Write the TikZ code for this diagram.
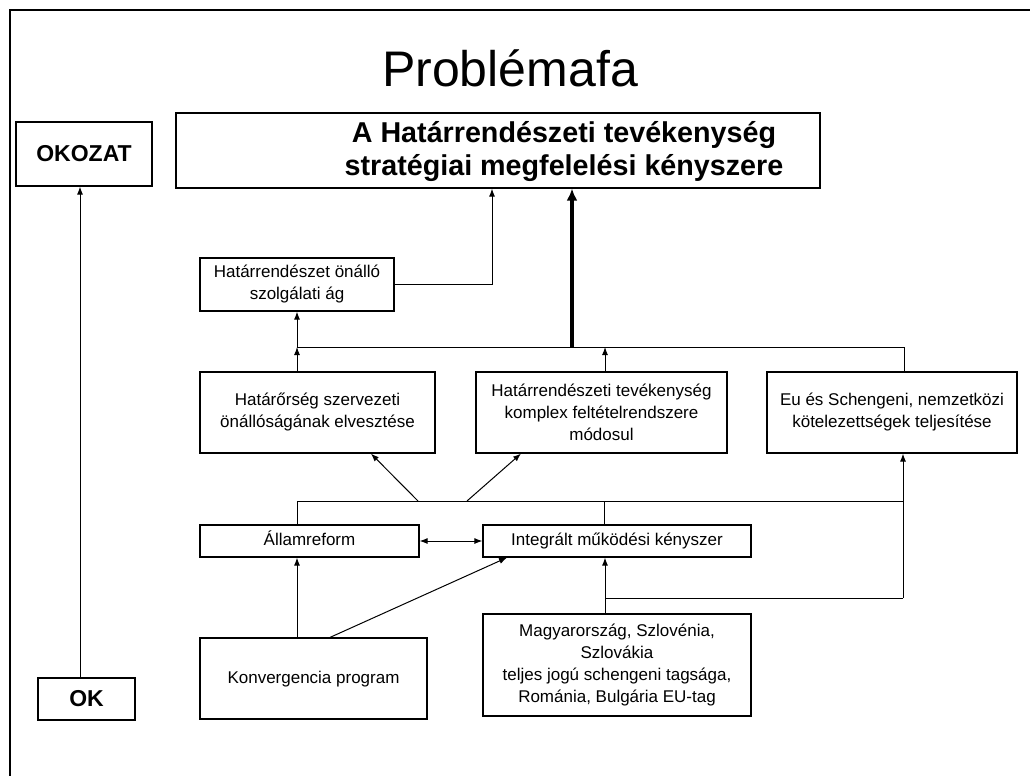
\documentclass[tikz,border=0pt]{standalone}
\usepackage{fontspec}
\setmainfont{Liberation Sans}
\usetikzlibrary{arrows.meta}
\begin{document}
\begin{tikzpicture}[x=1pt,y=-1pt,
  box/.style={draw, line width=1.2pt, rectangle, inner sep=0pt, align=center,
              font=\fontsize{17}{22}\selectfont},
  onebox/.style={box, text height=12.5pt, text depth=3.5pt},
  bigbox/.style={box, font=\bfseries\fontsize{28.7}{32}\selectfont},
  keybox/.style={box, font=\bfseries\fontsize{23}{26}\selectfont},
  conn/.style={line width=1pt},
  arr/.style={conn, -{Latex[length=8pt,width=6pt]}},
  dblarr/.style={conn, {Latex[length=8pt,width=6pt]}-{Latex[length=8pt,width=6pt]}},
  thickarr/.style={line width=4pt, -{Latex[length=12pt,width=11pt]}},
]
\useasboundingbox (0,0) rectangle (1030,776);

% page frame (top and left edges)
\draw[line width=2.5pt] (1030,10) -- (10,10) -- (10,776);

% title
\node[font=\fontsize{50}{60}\selectfont, inner sep=0pt] (title) at (510,68) {Problémafa};

% cause / effect column
\node[keybox, minimum width=136pt, minimum height=64pt] (okozat) at (84,154) {OKOZAT};
\node[keybox, minimum width=97pt, minimum height=42pt] (ok) at (86.5,699) {OK};
\coordinate (ax) at (80,0);
\draw[arr] (ok.north -| ax) -- (okozat.south -| ax);

% main problem
\node[bigbox, minimum width=644pt, minimum height=75pt] (top) at (498,150.5) {};
\node[font=\bfseries\fontsize{28.7}{33}\selectfont, align=center, inner sep=0pt] (toptext) at (564,152)
  {A Határrendészeti tevékenység\\stratégiai megfelelési kényszere};

% second level
\node[box, minimum width=194pt, minimum height=53pt] (onallo) at (297,284.5)
  {Határrendészet önálló\\szolgálati ág};

% third level
\node[box, minimum width=235pt, minimum height=81pt] (hatarorseg) at (317.5,412.5)
  {Határőrség szervezeti\\önállóságának elvesztése};
\node[box, minimum width=251pt, minimum height=81pt] (mid) at (601.5,412.5)
  {Határrendészeti tevékenység\\komplex feltételrendszere\\módosul};
\node[box, minimum width=250pt, minimum height=81pt] (eu) at (892,412.5)
  {Eu és Schengeni, nemzetközi\\kötelezettségek teljesítése};

% fourth level
\node[onebox, minimum width=219pt, minimum height=32pt] (allam) at (309.5,541) {Államreform};
\node[onebox, minimum width=268pt, minimum height=32pt] (integr) at (617,541) {Integrált működési kényszer};

% root causes
\node[onebox, minimum width=227pt, minimum height=81pt] (konv) at (313.5,678.5) {Konvergencia program};
\node[box, minimum width=268pt, minimum height=102pt] (magy) at (617,665)
  {Magyarország, Szlovénia,\\Szlovákia\\teljes jogú schengeni tagsága,\\Románia, Bulgária EU-tag};

% önálló ág -> main problem
\coordinate (jA) at (492,0);
\draw[arr] (onallo.east) -| (top.south -| jA);

% upper collector line
\coordinate (bL) at (297,347);
\coordinate (bM) at (605,347);
\coordinate (bT) at (572,347);
\coordinate (bR) at (904,347);
\draw[conn] (bL) -- (bR) -- (eu.north -| bR);
\draw[thickarr] (bT) -- (top.south -| bT);
\draw[arr] (bL) -- (onallo.south -| bL);
\draw[arr] (hatarorseg.north -| bL) -- (bL);
\draw[arr] (mid.north -| bM) -- (bM);

% lower collector line
\coordinate (cL) at (297,501);
\coordinate (cM) at (604,501);
\coordinate (cR) at (903,501);
\draw[conn] (allam.north -| cL) -- (cL) -- (cR);
\draw[conn] (integr.north -| cM) -- (cM);
\coordinate (d1) at (418,501);
\coordinate (d1e) at (371,0);
\draw[arr] (d1) -- (hatarorseg.south -| d1e);
\coordinate (d2) at (467,501);
\coordinate (d2e) at (521,0);
\draw[arr] (d2) -- (mid.south -| d2e);

% Schengen membership branch
\coordinate (eM) at (605,598);
\coordinate (eR) at (903,598);
\draw[conn] (eM) -- (eR);
\draw[arr] (eR) -- (eu.south -| eR);
\draw[arr] (magy.north -| eM) -- (integr.south -| eM);

% reform <-> integration
\draw[dblarr] (allam.east) -- (integr.west);

% convergence programme
\draw[arr] (konv.north -| cL) -- (allam.south -| cL);
\coordinate (kS) at (330,0);
\coordinate (kE) at (507,0);
\draw[arr] (konv.north -| kS) -- (integr.south -| kE);
\end{tikzpicture}
\end{document}
